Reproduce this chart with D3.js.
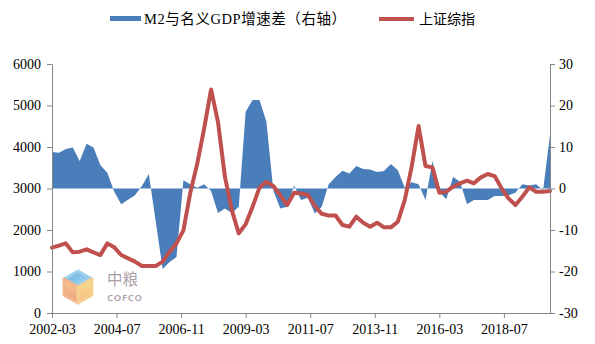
<!DOCTYPE html>
<html>
<head>
<meta charset="utf-8">
<script src="https://cdn.jsdelivr.net/npm/d3@7/dist/d3.min.js"></script>
<style>
  html, body { margin: 0; padding: 0; background: #fff; }
  svg { display: block; }
  .axis path, .axis line { stroke: #868686; }
  .axis text { font-family: "Liberation Serif", "Times New Roman", serif; font-size: 14px; fill: #000; }
</style>
</head>
<body>
<svg id="chart" width="595" height="344"></svg>
<script>
// Quarter-end observations, 2002-03 through 2020-03
const quarters = [
  "2002-03","2002-06","2002-09","2002-12","2003-03","2003-06","2003-09","2003-12",
  "2004-03","2004-06","2004-09","2004-12","2005-03","2005-06","2005-09","2005-12",
  "2006-03","2006-06","2006-09","2006-12","2007-03","2007-06","2007-09","2007-12",
  "2008-03","2008-06","2008-09","2008-12","2009-03","2009-06","2009-09","2009-12",
  "2010-03","2010-06","2010-09","2010-12","2011-03","2011-06","2011-09","2011-12",
  "2012-03","2012-06","2012-09","2012-12","2013-03","2013-06","2013-09","2013-12",
  "2014-03","2014-06","2014-09","2014-12","2015-03","2015-06","2015-09","2015-12",
  "2016-03","2016-06","2016-09","2016-12","2017-03","2017-06","2017-09","2017-12",
  "2018-03","2018-06","2018-09","2018-12","2019-03","2019-06","2019-09","2019-12",
  "2020-03"
];

// M2 growth minus nominal GDP growth (percentage points, right axis)
const m2GdpGap = [
  8.8, 8.6, 9.5, 9.9, 6.6, 10.8, 9.9, 5.6,
  3.8, -0.8, -3.8, -2.7, -1.6, 0.6, 3.5, -8.0,
  -19.4, -17.7, -16.5, 2.0, 1.0, 0.2, 1.0, -0.6,
  -5.9, -4.8, -5.9, -4.4, 18.5, 21.3, 21.3, 16.1,
  -0.5, -4.8, -4.4, 0.7, -2.8, -2.2, -6.0, -4.4,
  1.0, 2.8, 4.3, 3.6, 5.4, 4.7, 4.6, 4.0,
  4.2, 5.9, 4.4, 0.2, 1.5, 1.0, -2.8, 6.6,
  -0.8, -2.6, 2.8, 1.6, -3.8, -2.8, -2.8, -2.8,
  -1.8, -1.8, -1.6, -1.0, 1.0, 0.7, 1.0, -0.4,
  12.9
];

// Shanghai Composite Index (left axis)
const shIndex = [
  1574, 1622, 1678, 1461, 1478, 1534, 1461, 1397,
  1678, 1582, 1397, 1317, 1237, 1132, 1132, 1132,
  1237, 1478, 1678, 1990, 2900, 3600, 4450, 5388,
  4600, 3284, 2480, 1919, 2140, 2562, 3020, 3164,
  3059, 2843, 2602, 2900, 2880, 2843, 2578, 2390,
  2350, 2350, 2120, 2080, 2321, 2176, 2080, 2176,
  2064, 2064, 2200, 2722, 3525, 4505, 3541, 3509,
  2899, 2923, 3043, 3124, 3188, 3124, 3268, 3349,
  3300, 3003, 2762, 2602, 2802, 3027, 2923, 2923,
  2939
];

const xTickLabels = ["2002-03","2004-07","2006-11","2009-03","2011-07","2013-11","2016-03","2018-07"];
const leftTicks = [0, 1000, 2000, 3000, 4000, 5000, 6000];
const rightTicks = [-30, -20, -10, 0, 10, 20, 30];
const seriesNames = ["M2与名义GDP增速差（右轴）", "上证综指"];

const colors = { area: "#4a7ebb", line: "#c0504d" };

// Months elapsed since 2002-03, used for a continuous date position
const monthIndex = s => {
  const [y, m] = s.split("-").map(Number);
  return (y - 2002) * 12 + (m - 3);
};

const plot = { left: 52, right: 550, top: 64, bottom: 313 };
const svg = d3.select("#chart");

const x = d3.scaleLinear()
  .domain([monthIndex(quarters[0]), monthIndex(quarters[quarters.length - 1])])
  .range([plot.left, plot.right]);
const yLeft = d3.scaleLinear().domain([0, 6000]).range([plot.bottom, plot.top]);
const yRight = d3.scaleLinear().domain([-30, 30]).range([plot.bottom, plot.top]);

const rows = quarters.map((q, i) => ({ m: monthIndex(q), gap: m2GdpGap[i], idx: shIndex[i] }));

// Watermark logo (behind the data)
const defs = svg.append("defs");
const g1 = defs.append("linearGradient").attr("id", "cubeTop").attr("x1", 0).attr("y1", 0).attr("x2", 1).attr("y2", 1);
g1.append("stop").attr("offset", "0%").attr("stop-color", "#4f9fd6");
g1.append("stop").attr("offset", "100%").attr("stop-color", "#9fd8f0");
const g2 = defs.append("linearGradient").attr("id", "cubeLeft").attr("x1", 0).attr("y1", 0).attr("x2", 0).attr("y2", 1);
g2.append("stop").attr("offset", "0%").attr("stop-color", "#f5c07e");
g2.append("stop").attr("offset", "100%").attr("stop-color", "#ee8f68");
const g3 = defs.append("linearGradient").attr("id", "cubeRight").attr("x1", 0).attr("y1", 0).attr("x2", 0).attr("y2", 1);
g3.append("stop").attr("offset", "0%").attr("stop-color", "#f7dc78");
g3.append("stop").attr("offset", "100%").attr("stop-color", "#f2ad6c");

const logo = svg.append("g").attr("opacity", 0.85);
const cubeX = 78, cubeY = 287, cubeR = 16;
const hexPt = a => [cubeX + cubeR * Math.cos(a * Math.PI / 180), cubeY + cubeR * Math.sin(a * Math.PI / 180)];
const faceTop = [hexPt(-150), hexPt(-90), hexPt(-30), [cubeX, cubeY]];
const faceLeft = [hexPt(150), hexPt(-150), [cubeX, cubeY], hexPt(90)];
const faceRight = [[cubeX, cubeY], hexPt(-30), hexPt(30), hexPt(90)];
const poly = pts => "M" + pts.map(p => p.join(",")).join("L") + "Z";
logo.append("path").attr("d", poly(faceTop)).attr("fill", "url(#cubeTop)").attr("stroke", "#8cc8ea").attr("stroke-linejoin", "round").attr("stroke-width", 3);
logo.append("path").attr("d", poly(faceLeft)).attr("fill", "url(#cubeLeft)").attr("stroke", "#f0a878").attr("stroke-linejoin", "round").attr("stroke-width", 3);
logo.append("path").attr("d", poly(faceRight)).attr("fill", "url(#cubeRight)").attr("stroke", "#f4c77c").attr("stroke-linejoin", "round").attr("stroke-width", 3);
logo.append("text").attr("x", 107).attr("y", 285)
  .attr("font-family", "'Noto Sans CJK SC', sans-serif").attr("font-size", 15.5)
  .attr("fill", "#9c8f9a").text("中粮");
logo.append("text").attr("x", 107).attr("y", 301)
  .attr("font-family", "'Noto Sans', Arial, sans-serif").attr("font-size", 9.5).attr("font-weight", 600)
  .attr("letter-spacing", 0.8).attr("fill", "#9a939a").text("COFCO");

// Area for the M2–GDP gap, filled against the zero line of the right axis
const area = d3.area()
  .x(d => x(d.m))
  .y0(yRight(0))
  .y1(d => yRight(d.gap));
svg.append("path").datum(rows).attr("d", area).attr("fill", colors.area);

// Index line on the left axis
const line = d3.line().x(d => x(d.m)).y(d => yLeft(d.idx));
svg.append("path").datum(rows).attr("d", line)
  .attr("fill", "none").attr("stroke", colors.line)
  .attr("stroke-width", 4).attr("stroke-linejoin", "round").attr("stroke-linecap", "round");

// Axes
svg.append("g").attr("class", "axis").attr("transform", `translate(${plot.left},0)`)
  .call(d3.axisLeft(yLeft).tickValues(leftTicks).tickFormat(d3.format("d")).tickSize(5).tickSizeOuter(0).tickPadding(6));
const axR = svg.append("g").attr("class", "axis").attr("transform", `translate(${plot.right},0)`)
  .call(d3.axisRight(yRight).tickValues(rightTicks).tickFormat(d3.format("d")).tickSize(5).tickSizeOuter(0).tickPadding(4));
svg.append("g").attr("class", "axis").attr("transform", `translate(0,${plot.bottom})`)
  .call(d3.axisBottom(x).tickValues(xTickLabels.map(monthIndex))
    .tickFormat((d, i) => xTickLabels[i]).tickSize(5).tickSizeOuter(0).tickPadding(6));
axR.selectAll("text").text(d => d < 0 ? "-" + Math.abs(d) : d);

// Legend
const legend = svg.append("g");
legend.append("rect").attr("x", 110).attr("y", 16).attr("width", 31).attr("height", 5).attr("fill", colors.area);
legend.append("text").attr("x", 144).attr("y", 24)
  .attr("font-family", "'Liberation Serif', 'Noto Sans CJK SC', serif").attr("font-size", 14.5)
  .attr("textLength", 202).attr("lengthAdjust", "spacing")
  .text(seriesNames[0]);
legend.append("line").attr("x1", 379).attr("x2", 414).attr("y1", 19).attr("y2", 19)
  .attr("stroke", colors.line).attr("stroke-width", 4);
legend.append("text").attr("x", 419).attr("y", 24)
  .attr("font-family", "'Noto Sans CJK SC', sans-serif").attr("font-size", 14)
  .text(seriesNames[1]);
</script>
</body>
</html>
